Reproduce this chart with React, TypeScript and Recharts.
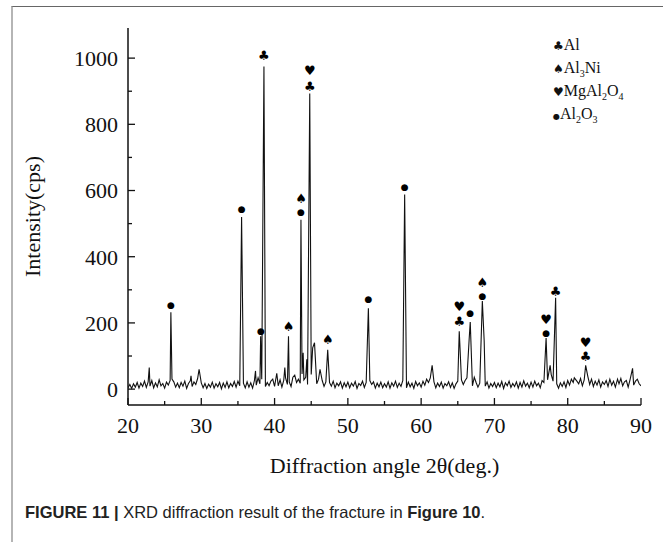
// @ts-nocheck
import React from 'react';
import { ComposedChart, Line, Scatter, XAxis, YAxis } from 'recharts';

// scan starts at 20 deg, one reading every 0.25 deg (baseline noise, cps)
const START_ANGLE = 20;
const STEP = 0.25;
const baseline = [
  4, 14, 2, 16, 6, 20, 3, 18, 8, 24, 5, 22, 9, 26, 4, 19, 7, 28, 10, 17,
  3, 21, 12, 26, 30, 22, 6, 18, 4, 20, 9, 24, 2, 17, 25, 8, 22, 14, 32, 10,
  19, 4, 17, 2, 15, 6, 21, 3, 16, 7, 20, 1, 18, 5, 22, 4, 17, 8, 23, 6,
  24, 10, 32, 18, 4, 22, 6, 19, 3, 26, 12, 34, 16, 30, 22, 8, 20, 10, 24, 30,
  8, 24, 10, 28, 6, 26, 34, 14, 22, 8, 36, 42, 20, 30, 18, 46, 28, 36, 14, 26,
  44, 30, 38, 16, 30, 10, 26, 8, 22, 5, 20, 9, 24, 4, 18, 10, 22, 3, 19, 7,
  21, 4, 18, 9, 23, 2, 17, 11, 24, 5, 20, 8, 26, 14, 22, 3, 18, 7, 21, 4,
  16, 6, 22, 3, 19, 9, 24, 5, 18, 8, 26, 12, 4, 21, 7, 18, 2, 23, 10, 19,
  6, 24, 12, 30, 20, 34, 16, 22, 4, 18, 8, 21, 3, 17, 10, 22, 5, 19, 2, 16,
  24, 8, 28, 14, 26, 34, 12, 28, 10, 36, 20, 6, 18, 4, 20, 9, 22, 3, 17, 8,
  20, 4, 18, 7, 23, 2, 19, 10, 24, 5, 17, 8, 22, 3, 20, 6, 25, 9, 18, 4,
  21, 6, 24, 10, 18, 4, 26, 20, 40, 28, 34, 44, 24, 6, 16, 3, 19, 8, 22, 5,
  26, 12, 30, 20, 8, 24, 16, 32, 10, 28, 18, 38, 14, 30, 8, 24, 12, 28, 6, 22,
  14, 26, 8, 30, 12, 24, 6, 28, 16, 32, 10, 22, 26, 6, 28, 34, 12, 24, 30, 16,
  10,
];

// [2theta, intensity] of the peak tops
const peaks = [
  [22.9, 65], [25.85, 232], [28.6, 40], [29.7, 60], [35.5, 520], [37.4, 55],
  [38.1, 160], [38.55, 975], [40.3, 48], [41.4, 65], [41.9, 160], [43.6, 512],
  [43.9, 110], [44.4, 90], [44.8, 893], [45.2, 125], [45.45, 140], [46.2, 60],
  [47.25, 119], [52.8, 244], [57.75, 588], [61.5, 72], [65.2, 175], [66.55, 150],
  [66.7, 203], [68.35, 266], [68.6, 146], [77.05, 154], [77.6, 72], [78.35, 276],
  [80.9, 34], [82.45, 72], [86.8, 30], [88.85, 63],
];

// phase markers: [2theta, height, symbol]
const markers = [
  [25.85, 255, '●'], [35.5, 543, '●'], [38.15, 175, '●'], [38.55, 1008, '♣'],
  [41.9, 190, '♠'], [43.6, 536, '●'], [43.6, 577, '♠'], [44.8, 915, '♣'],
  [44.8, 962, '♥'], [47.25, 150, '♠'], [52.8, 271, '●'], [57.75, 611, '●'],
  [65.2, 203, '♣'], [65.2, 250, '♥'], [66.7, 230, '●'], [68.35, 281, '●'],
  [68.35, 323, '♠'], [77.05, 169, '●'], [77.05, 211, '♥'], [78.35, 294, '♣'],
  [82.45, 98, '♣'], [82.45, 140, '♥'],
];

const xTicks = [20, 25, 30, 35, 40, 45, 50, 55, 60, 65, 70, 75, 80, 85, 90];
const yTicks = [0, 100, 200, 300, 400, 500, 600, 700, 800, 900, 1000];

const peakAngles = peaks.map((p) => p[0]);
const spectrum = baseline
  .map((v, i) => ({ x: START_ANGLE + i * STEP, y: v }))
  .filter((p) => !peakAngles.some((a) => Math.abs(a - p.x) < 0.1))
  .concat(peaks.map(([x, y]) => ({ x, y })))
  .sort((a, b) => a.x - b.x);

const markerData = markers.map(([x, y, sym]) => ({ x, y, sym }));

const SERIF = '"Liberation Serif", "Times New Roman", serif';
const SANS = '"Liberation Sans", Arial, sans-serif';

const XTick = ({ x, y, payload }) => {
  const major = payload.value % 10 === 0;
  const ay = y - 12;
  return (
    <g>
      <line x1={x} x2={x} y1={ay} y2={ay - (major ? 7 : 4)} stroke="#111" strokeWidth={1.3} />
      {major && (
        <text x={x} y={y} dy="0.71em" textAnchor="middle" fontSize={22} fontFamily={SERIF} fill="#111">
          {payload.value}
        </text>
      )}
    </g>
  );
};

const YTick = ({ x, y, payload }) => {
  const major = payload.value % 200 === 0;
  const ax = x + 10;
  return (
    <g>
      <line x1={ax} x2={ax + (major ? 7 : 4)} y1={y} y2={y} stroke="#111" strokeWidth={1.3} />
      {major && (
        <text x={x} y={y} dy="0.355em" textAnchor="end" fontSize={22} fontFamily={SERIF} fill="#111">
          {payload.value}
        </text>
      )}
    </g>
  );
};

const markerShape = ({ cx, cy, payload }) => (
  <text
    x={cx}
    y={cy}
    textAnchor="middle"
    dominantBaseline="central"
    fontSize={payload.sym === '●' ? 9 : 13}
    fontFamily='"DejaVu Sans", sans-serif'
    fill="#000"
  >
    {payload.sym}
  </text>
);

const legendRows = [
  { sym: '♣', parts: [['Al', '']] },
  { sym: '♠', parts: [['Al', '3'], ['Ni', '']] },
  { sym: '♥', parts: [['MgAl', '2'], ['O', '4']] },
  { sym: '●', parts: [['Al', '2'], ['O', '3']] },
];

export default function App() {
  return (
    <div style={{ position: 'absolute', left: 0, top: 0, width: 663, height: 542, background: '#fff', overflow: 'hidden' }}>
      <div
        style={{
          position: 'absolute',
          left: 11,
          top: 6,
          width: 700,
          height: 600,
          borderTop: '1.5px solid #666',
          borderLeft: '2px solid #b5b5b5',
        }}
      />
      <div style={{ position: 'absolute', left: 0, top: 0 }}>
        <ComposedChart width={663} height={490} margin={{ top: 28, right: 22, left: 0, bottom: 0 }}>
          <XAxis
            dataKey="x"
            type="number"
            domain={[20, 90]}
            ticks={xTicks}
            interval={0}
            tickSize={0}
            tickMargin={12}
            tickLine={false}
            tick={<XTick />}
            height={85}
            axisLine={{ stroke: '#111', strokeWidth: 1.5 }}
            allowDataOverflow
            label={{
              content: ({ viewBox }) => (
                <text x={viewBox.x + viewBox.width / 2} y={viewBox.y + 68} textAnchor="middle" fontSize={22} fontFamily={SERIF} fill="#111">
                  Diffraction angle 2θ(deg.)
                </text>
              ),
            }}
          />
          <XAxis xAxisId="top" orientation="top" type="number" domain={[20, 90]} height={0} tick={false} tickLine={false} axisLine={{ stroke: '#111', strokeWidth: 1.5 }} />
          <YAxis
            type="number"
            domain={[-48, 1091]}
            ticks={yTicks}
            interval={0}
            tickSize={0}
            tickMargin={10}
            tickLine={false}
            tick={<YTick />}
            width={128}
            axisLine={{ stroke: '#111', strokeWidth: 1.5 }}
            allowDataOverflow
            label={{
              content: ({ viewBox }) => {
                const cx = 40;
                const cy = viewBox.y + viewBox.height / 2;
                return (
                  <text x={cx} y={cy} transform={`rotate(-90 ${cx} ${cy})`} textAnchor="middle" fontSize={22} fontFamily={SERIF} fill="#111">
                    Intensity(cps)
                  </text>
                );
              },
            }}
          />
          <YAxis yAxisId="right" orientation="right" width={0} tick={false} tickLine={false} domain={[0, 1]} axisLine={{ stroke: '#111', strokeWidth: 1.5 }} />
          <Line data={spectrum} dataKey="y" type="linear" dot={false} stroke="#111" strokeWidth={1.1} isAnimationActive={false} />
          <Scatter data={markerData} dataKey="y" shape={markerShape} isAnimationActive={false} />
        </ComposedChart>
      </div>
      <div style={{ position: 'absolute', left: 553, top: 35, fontFamily: SERIF, fontSize: 16, color: '#111' }}>
        {legendRows.map((row) => (
          <div key={row.sym} style={{ whiteSpace: 'nowrap', height: 23, lineHeight: '20px' }}>
            <span style={{ fontFamily: '"DejaVu Sans", sans-serif', fontSize: row.sym === '●' ? 8 : 12 }}>{row.sym}</span>
            {row.parts.map(([t, sub], i) => (
              <span key={i}>
                {t}
                {sub && <span style={{ fontSize: 10, position: 'relative', top: 4 }}>{sub}</span>}
              </span>
            ))}
          </div>
        ))}
      </div>
      <div style={{ position: 'absolute', left: 25, top: 503, fontFamily: SANS, fontSize: 16.5, color: '#222', whiteSpace: 'nowrap' }}>
        <b>FIGURE 11 | </b>XRD diffraction result of the fracture in <b>Figure 10</b>.
      </div>
    </div>
  );
}
